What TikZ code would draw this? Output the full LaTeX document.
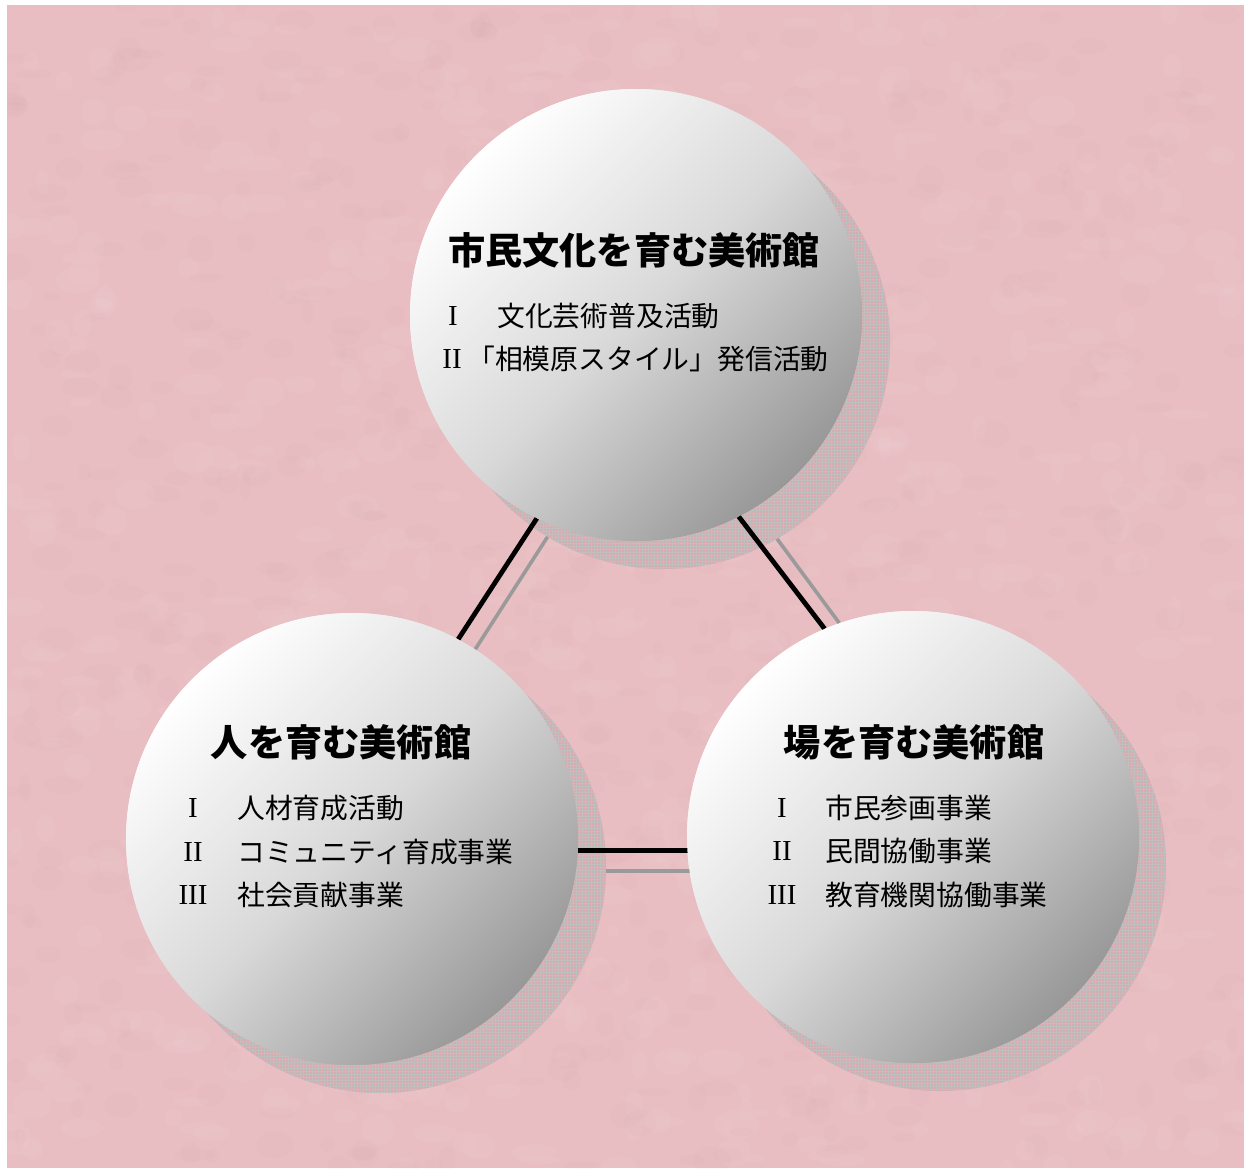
\documentclass[tikz,border=0pt]{standalone}
\usepackage{fontspec}
\setmainfont{Liberation Serif}
\newfontfamily\jp{Noto Sans CJK JP}
\usetikzlibrary{patterns}
\definecolor{bgpink}{HTML}{E9BEC2}
\definecolor{shadowpink}{HTML}{D7ABB0}
\definecolor{ballgray}{HTML}{989898}
\definecolor{linegray}{HTML}{9A9A9A}
\definecolor{blotch}{HTML}{C8959B}
\tikzset{
  ball/.style={circle, inner sep=0pt, minimum size=452pt, shading=axis,
    top color=white, bottom color=ballgray, middle color=black!15, shading angle=45},
  ballshadow/.style={circle, inner sep=0pt, minimum size=452pt, fill=shadowpink,
    postaction={pattern=grid, pattern color=black!25}},
  link/.style={line width=4.8pt, black},
  linkshadow/.style={line width=3.6pt, linegray},
  title/.style={font=\jp\bfseries\fontsize{37.2}{42}\selectfont, inner sep=0pt},
  num/.style={font=\fontsize{29}{34}\selectfont, inner sep=0pt},
  item/.style={font=\jp\fontsize{27.8}{32}\selectfont, inner sep=0pt, anchor=west}
}
\begin{document}
\begin{tikzpicture}[x=1pt,y=-1pt]
\useasboundingbox (0,0) rectangle (1248,1170);
\fill[bgpink] (7,5) rectangle (1244,1168);
% subtle mottled texture of the paper
\begin{scope}
\clip (7,5) rectangle (1244,1168);
\pgfmathsetseed{7}
\foreach \i in {1,...,700}{
  \pgfmathsetmacro\px{7+rnd*1237}
  \pgfmathsetmacro\py{5+rnd*1163}
  \pgfmathsetmacro\ra{6+rnd*18}
  \pgfmathsetmacro\rb{4+rnd*12}
  \fill[white, opacity=0.045] (\px,\py) ellipse ({\ra pt} and {\rb pt});
}
\foreach \i in {1,...,700}{
  \pgfmathsetmacro\px{7+rnd*1237}
  \pgfmathsetmacro\py{5+rnd*1163}
  \pgfmathsetmacro\ra{5+rnd*16}
  \pgfmathsetmacro\rb{4+rnd*10}
  \fill[blotch, opacity=0.045] (\px,\py) ellipse ({\ra pt} and {\rb pt});
}
\end{scope}
% shadows
\node[ballshadow] (tops) at (664,343) {};
\node[ballshadow] (lefts) at (380,867) {};
\node[ballshadow] (rights) at (940,865) {};
% circles (for anchors)
\path node[ball] (top) at (636,315) {}
      node[ball] (left) at (352,839) {}
      node[ball] (right) at (913,837) {};
% connector shadows
\draw[linkshadow] (tops.239.6) -- (left.57.8);
\draw[linkshadow] (tops.300.4) -- (right.109.7);
\draw[linkshadow] (lefts.-1.5) -- (lefts.-1.5 -| right.center);
% connectors
\draw[link] (top.244.4) -- (left.62.6);
\draw[link] (top.297.5) -- (right.113.6);
\draw[link] (left.-3.8) -- (left.-3.8 -| right.center);
% redraw circles on top
\node[ball] at (top) {};
\node[ball] at (left) {};
\node[ball] at (right) {};
% top texts
\node[title] (t1) at (634,250) {市民文化を育む美術館};
\node[num] (t1n1) at (453,316) {I};
\node[item] (t1i1) at (497,316) {文化芸術普及活動};
\node[num] (t1n2) at (452,359) {II};
\node[item] (t1i2) at (467,359) {「相模原スタイル」発信活動};
% left texts
\node[title] (t2) at (341,742) {人を育む美術館};
\node[num] (t2n1) at (193,808) {I};
\node[item] (t2i1) at (237,808) {人材育成活動};
\node[num] (t2n2) at (193,852) {II};
\node[item] (t2i2) at (237,852) {コミュニティ育成事業};
\node[num] (t2n3) at (193,895) {III};
\node[item] (t2i3) at (237,895) {社会貢献事業};
% right texts
\node[title] (t3) at (914,742) {場を育む美術館};
\node[num] (t3n1) at (782,808) {I};
\node[item] (t3i1) at (825,808) {市民参画事業};
\node[num] (t3n2) at (782,851) {II};
\node[item] (t3i2) at (825,851) {民間協働事業};
\node[num] (t3n3) at (782,895) {III};
\node[item] (t3i3) at (825,895) {教育機関協働事業};
\end{tikzpicture}
\end{document}
